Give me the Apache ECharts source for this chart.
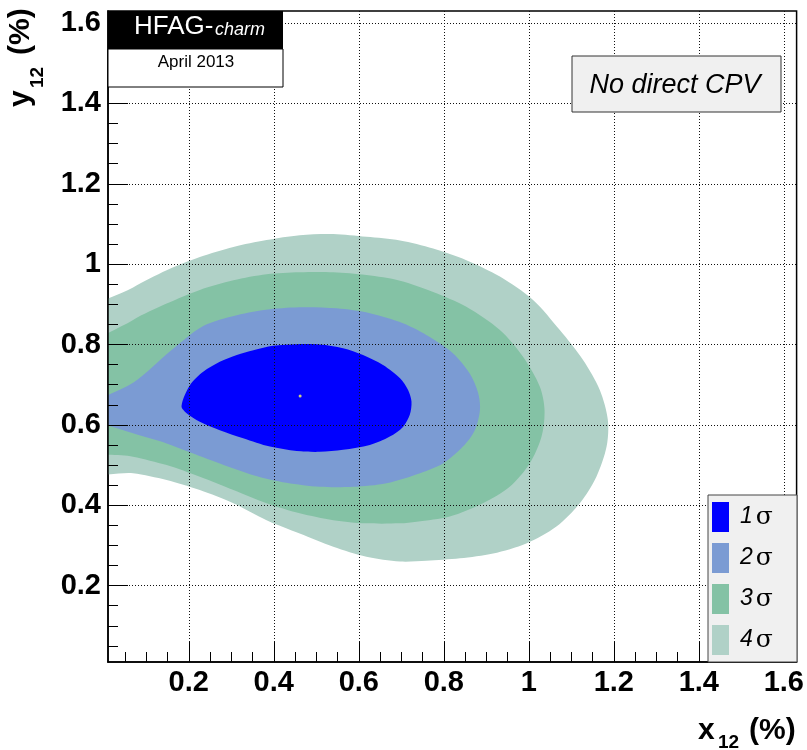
<!DOCTYPE html>
<html>
<head>
<meta charset="utf-8">
<script src="https://cdn.jsdelivr.net/npm/echarts@6/dist/echarts.min.js"></script>
<style>
html, body { margin: 0; padding: 0; background: #fff; }
#chart { width: 807px; height: 750px; }
</style>
</head>
<body>
<div id="chart"></div>
<script>
// axis ranges and ticks
var xRange = [0.01, 1.63];
var yRange = [0.01, 1.63];
var majorTicks = [0.2, 0.4, 0.6, 0.8, 1, 1.2, 1.4, 1.6];
var minorTicks = [0.05, 0.1, 0.15, 0.25, 0.3, 0.35, 0.45, 0.5, 0.55, 0.65, 0.7, 0.75,
                  0.85, 0.9, 0.95, 1.05, 1.1, 1.15, 1.25, 1.3, 1.35, 1.45, 1.5, 1.55];

var sigmaNames = ['1σ', '2σ', '3σ', '4σ'];

// contours [x12, y12] in %, the open ones run on past the left frame and get clipped
var contour1 = [
    [0.183, 0.647], [0.195, 0.629], [0.226, 0.608], [0.273, 0.587], [0.328, 0.567],
    [0.391, 0.546], [0.454, 0.535], [0.508, 0.533], [0.563, 0.538], [0.626, 0.550],
    [0.673, 0.571], [0.704, 0.595], [0.720, 0.625], [0.724, 0.658], [0.716, 0.687],
    [0.697, 0.716], [0.657, 0.749], [0.610, 0.774], [0.563, 0.791], [0.508, 0.800],
    [0.454, 0.801], [0.399, 0.797], [0.352, 0.786], [0.313, 0.774], [0.273, 0.757],
    [0.234, 0.732], [0.203, 0.699]
];
var contour2 = [
    [-0.06, 0.640], [0.069, 0.705], [0.156, 0.783], [0.234, 0.846],
    [0.313, 0.873], [0.391, 0.888], [0.469, 0.893], [0.548, 0.890], [0.626, 0.878],
    [0.704, 0.853], [0.767, 0.819], [0.822, 0.778], [0.861, 0.728], [0.881, 0.679],
    [0.885, 0.637], [0.873, 0.587], [0.845, 0.546], [0.798, 0.504], [0.744, 0.480],
    [0.665, 0.455], [0.587, 0.446], [0.508, 0.446], [0.430, 0.456], [0.352, 0.475],
    [0.273, 0.504], [0.195, 0.535], [0.148, 0.554], [0.069, 0.579], [-0.06, 0.625]
];
var contour3 = [
    [-0.06, 0.769], [0.069, 0.861], [0.148, 0.902], [0.226, 0.936],
    [0.305, 0.960], [0.383, 0.975], [0.461, 0.980], [0.540, 0.980], [0.618, 0.973],
    [0.697, 0.959], [0.775, 0.931], [0.853, 0.894], [0.932, 0.836], [0.986, 0.770],
    [1.026, 0.695], [1.037, 0.637], [1.030, 0.571], [1.002, 0.504], [0.955, 0.446],
    [0.892, 0.405], [0.814, 0.372], [0.736, 0.359], [0.697, 0.355], [0.618, 0.355],
    [0.540, 0.363], [0.461, 0.380], [0.383, 0.405], [0.305, 0.438], [0.226, 0.471],
    [0.148, 0.500], [0.069, 0.521], [-0.06, 0.547]
];
var contour4 = [
    [-0.06, 0.859], [0.069, 0.942], [0.148, 0.985], [0.226, 1.018],
    [0.305, 1.043], [0.383, 1.060], [0.461, 1.072], [0.540, 1.075], [0.618, 1.068],
    [0.697, 1.059], [0.775, 1.039], [0.853, 1.010], [0.932, 0.969], [1.010, 0.911],
    [1.073, 0.836], [1.128, 0.761], [1.167, 0.687], [1.186, 0.612], [1.183, 0.546],
    [1.159, 0.471], [1.120, 0.405], [1.065, 0.347], [0.994, 0.305], [0.916, 0.280],
    [0.838, 0.268], [0.759, 0.262], [0.697, 0.260], [0.618, 0.272], [0.540, 0.297],
    [0.461, 0.330], [0.383, 0.363], [0.305, 0.405], [0.226, 0.438], [0.148, 0.463],
    [0.069, 0.480], [-0.06, 0.489]
];
var bestFit = [[0.462, 0.672]];

var chart = echarts.init(document.getElementById('chart'));
var font = '"Liberation Sans", Arial, Helvetica, sans-serif';

function contourSeries(name, pts, color) {
    return {
        name: name,
        type: 'custom',
        coordinateSystem: 'cartesian2d',
        clip: true,
        silent: true,
        itemStyle: { color: color },
        data: [pts[1]],
        renderItem: function (params, api) {
            var points = pts.map(function (p) { return api.coord(p); });
            return {
                type: 'polygon',
                shape: { points: points, smooth: 0.3 },
                style: { fill: color }
            };
        }
    };
}

function axisPair(range, pos) {
    return [{
        type: 'value', min: range[0], max: range[1], position: pos, z: 5,
        axisLine: { onZero: false, lineStyle: { color: '#000', width: 1.5 } },
        axisTick: { inside: true, length: 20, customValues: majorTicks, lineStyle: { color: '#000', width: 1 } },
        axisLabel: {
            customValues: majorTicks, margin: pos == 'bottom' ? 6 : 7, color: '#000',
            fontFamily: font, fontWeight: 'bold', fontSize: 29
        },
        splitLine: { show: true, lineStyle: { color: '#111', type: [1, 2], width: 1 } }
    }, {
        type: 'value', min: range[0], max: range[1], position: pos, z: 5,
        axisLine: { show: false, onZero: false },
        axisTick: { inside: true, length: 10, customValues: minorTicks, lineStyle: { color: '#000', width: 1 } },
        axisLabel: { show: false },
        splitLine: { show: false }
    }];
}

function txt(str, x, y, size, opts) {
    opts = opts || {};
    return {
        type: 'text', x: x, y: y, z: opts.z || 11, silent: true,
        style: {
            text: str,
            font: (opts.style || '') + ' ' + (opts.weight || '') + ' ' + size + 'px ' + (opts.family || font),
            fill: opts.color || '#000',
            align: opts.align || 'left', textAlign: opts.align || 'left',
            verticalAlign: 'middle', textVerticalAlign: 'middle'
        }
    };
}

var option = {
    animation: false,
    backgroundColor: '#fff',
    grid: { left: 108, top: 11, right: 10, bottom: 88, show: true, borderColor: '#000', borderWidth: 1.5 },
    xAxis: axisPair(xRange, 'bottom'),
    yAxis: axisPair(yRange, 'left'),
    legend: {
        data: sigmaNames,
        orient: 'vertical', left: 712, top: 502, padding: 0,
        itemWidth: 17, itemHeight: 30, itemGap: 11, icon: 'rect',
        z: 20, selectedMode: false,
        formatter: function (name) { return '{d|' + name.charAt(0) + '}{s|σ}'; },
        textStyle: {
            rich: {
                d: { fontFamily: font, fontStyle: 'italic', fontSize: 23, color: '#000', padding: [0, 3, 0, 6] },
                s: { fontFamily: '"DejaVu Serif", "Liberation Serif", serif', fontSize: 25, color: '#000' }
            }
        }
    },
    graphic: [
        { type: 'rect', z: 10, shape: { x: 108, y: 11, width: 175, height: 38 }, style: { fill: '#000' } },
        { type: 'rect', z: 10, shape: { x: 108, y: 49, width: 175, height: 38 }, style: { fill: '#fff', stroke: '#000', lineWidth: 1 } },
        txt('HFAG-', 134, 27, 26, { color: '#fff' }),
        txt('charm', 215, 30, 18, { color: '#fff', style: 'italic' }),
        txt('April 2013', 196, 62.5, 17, { align: 'center' }),

        { type: 'rect', z: 10, shape: { x: 572, y: 56, width: 209, height: 56 }, style: { fill: '#f0f0f0', stroke: '#333', lineWidth: 1 } },
        txt('No direct CPV', 675, 85.5, 27, { align: 'center', style: 'italic' }),

        { type: 'rect', z: 10, shape: { x: 708, y: 495, width: 89, height: 167 }, style: { fill: '#f0f0f0', stroke: '#444', lineWidth: 1 } },

        // x title
        txt('x', 698, 731, 30, { weight: 'bold' }),
        txt('12', 718, 742.5, 19, { weight: 'bold' }),
        txt('(%)', 749, 731, 30, { weight: 'bold' }),

        // y title
        {
            type: 'group', x: 31, y: 107, rotation: Math.PI / 2,
            children: [
                txt('y', 0, -10.4, 30, { weight: 'bold' }),
                txt('12', 19, 6.5, 19, { weight: 'bold' }),
                txt('(%)', 52, -10.4, 30, { weight: 'bold' })
            ]
        }
    ],
    series: [
        contourSeries(sigmaNames[3], contour4, '#b0d1c7'),
        contourSeries(sigmaNames[2], contour3, '#84c2a5'),
        contourSeries(sigmaNames[1], contour2, '#7b9bd3'),
        contourSeries(sigmaNames[0], contour1, '#0000ff'),
        {
            type: 'scatter', data: bestFit, symbolSize: 3, silent: true,
            itemStyle: { color: '#ffff66' }
        }
    ]
};

chart.setOption(option);
window.addEventListener('resize', chart.resize);
</script>
</body>
</html>
